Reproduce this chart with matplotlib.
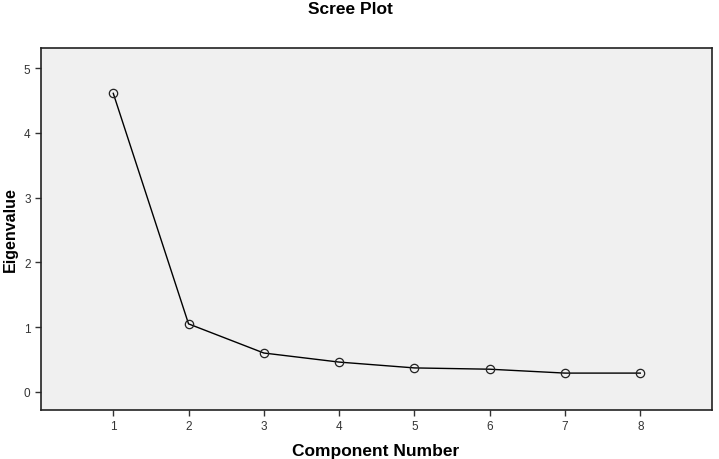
import matplotlib
matplotlib.use("Agg")
import matplotlib.pyplot as plt

plt.rcParams["font.family"] = ["Liberation Sans", "DejaVu Sans"]

components = [1, 2, 3, 4, 5, 6, 7, 8]
eigenvalues = [4.61, 1.05, 0.60, 0.46, 0.37, 0.35, 0.29, 0.29]
y_ticks = [0, 1, 2, 3, 4, 5]

fig = plt.figure(figsize=(7.19, 4.6), dpi=100)
ax = fig.add_axes([0.057, 0.1065, 0.933, 0.787])
ax.set_facecolor("#f0f0f0")

ax.plot(components, eigenvalues, color="black", linewidth=1.0,
        marker="o", markersize=6, markerfacecolor="none",
        markeredgecolor="#222222", markeredgewidth=0.9)

ax.set_xlim(0.04, 8.95)
ax.set_ylim(-0.28, 5.31)
ax.set_xticks(components)
ax.set_yticks(y_ticks)
ax.tick_params(axis="both", direction="out", length=4, width=1,
               colors="#333333", labelsize=8.5, labelcolor="#333333")
for spine in ax.spines.values():
    spine.set_color("#222222")
    spine.set_linewidth(1.2)

# axis titles placed in figure coordinates so nothing gets clipped
fig.text(376 / 719, 1 - 452 / 460, "Component Number", ha="center", va="center",
         fontsize=12.5, fontweight="bold")
fig.text(10 / 719, 0.5, "Eigenvalue", ha="center", va="center", rotation=90,
         fontsize=11.5, fontweight="bold")
fig.text(350 / 719, 1 - 9 / 460, "Scree Plot", ha="center", va="center",
         fontsize=12.5, fontweight="bold")

fig.savefig("out.png", dpi=100)
